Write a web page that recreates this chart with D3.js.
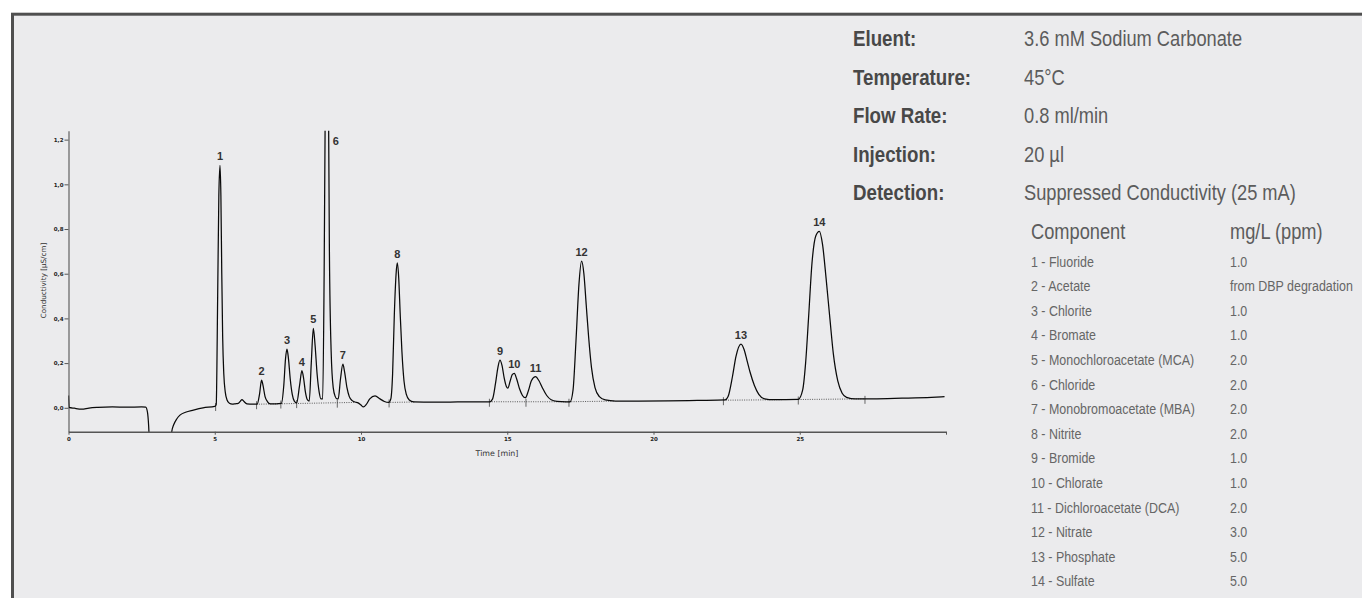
<!DOCTYPE html>
<html>
<head>
<meta charset="utf-8">
<script src="https://cdn.jsdelivr.net/npm/d3@7/dist/d3.min.js"></script>
<style>
	body { margin: 0; background: #fff; }
	.axis text { font-family: 'DejaVu Sans', sans-serif; font-weight: bold; font-size: 5.5px; fill: #222; }
	.axis path, .axis line { stroke: #555; }
	.cond-label { font-family: 'Liberation Sans', Arial, sans-serif; font-weight: bold; font-size: 22px; fill: #484848; }
	.cond-value { font-family: 'Liberation Sans', Arial, sans-serif; font-size: 22px; fill: #5c5c5c; }
	.comp { font-family: 'Liberation Sans', Arial, sans-serif; font-size: 15px; fill: #666; }
</style>
</head>
<body>
<div id="chart"></div>
<script>
// chromatogram trace: [time (min), conductivity (µS/cm)]
const trace = [
	[0, 0.055], [0.02, 0.002], [0.2, -0.002], [0.45, -0.006], [0.7, -0.001], [1.0, 0.002],
	[1.5, 0.004], [2.0, 0.003], [2.5, 0.004], [2.64, 0.003], [2.7, -0.02], [2.74, -0.08],
	[2.78, -0.2], [2.85, -0.3], [3.4, -0.3], [3.5, -0.14], [3.53, -0.107], [3.6, -0.075],
	[3.7, -0.05], [3.81, -0.033], [4.0, -0.02], [4.27, -0.01], [4.6, 0.0], [5.0, 0.006],
	// 1
	[5.05, 0.015], [5.1, 0.5], [5.14, 0.95], [5.18, 1.085], [5.21, 0.95], [5.24, 0.6],
	[5.27, 0.32], [5.31, 0.15], [5.36, 0.07], [5.42, 0.035], [5.5, 0.02], [5.6, 0.016],
	[5.7, 0.018], [5.8, 0.02], [5.88, 0.03], [5.93, 0.037], [6.0, 0.028], [6.1, 0.018],
	[6.3, 0.016],
	// 2
	[6.45, 0.016], [6.53, 0.06], [6.6, 0.124], [6.65, 0.1], [6.72, 0.05], [6.8, 0.028],
	[6.9, 0.018], [7.1, 0.018],
	// 3, 4, 5
	[7.28, 0.02], [7.36, 0.1], [7.42, 0.22], [7.47, 0.262], [7.52, 0.22], [7.58, 0.13],
	[7.65, 0.06], [7.72, 0.03], [7.8, 0.022], [7.9, 0.1], [7.98, 0.166], [8.04, 0.13],
	[8.1, 0.07], [8.17, 0.035], [8.23, 0.03], [8.3, 0.2], [8.37, 0.355], [8.43, 0.28],
	[8.5, 0.15], [8.57, 0.07], [8.63, 0.04],
	// 6
	[8.69, 0.04], [8.74, 0.6], [8.79, 1.6], [8.83, 2.6], [8.87, 1.8], [8.92, 0.7],
	[8.98, 0.25], [9.05, 0.09], [9.12, 0.05], [9.18, 0.04],
	// 7
	[9.22, 0.04], [9.3, 0.13], [9.38, 0.195], [9.44, 0.16], [9.52, 0.09], [9.6, 0.05],
	[9.7, 0.032], [9.8, 0.026], [9.9, 0.022], [10.0, 0.012], [10.08, 0.004], [10.18, 0.015],
	[10.3, 0.04], [10.48, 0.053], [10.65, 0.04], [10.8, 0.028], [10.95, 0.024],
	// 8
	[11.02, 0.04], [11.08, 0.15], [11.14, 0.42], [11.2, 0.6], [11.24, 0.648], [11.29, 0.58],
	[11.34, 0.42], [11.4, 0.25], [11.47, 0.12], [11.55, 0.06], [11.65, 0.035], [11.8, 0.026],
	[12.5, 0.025], [13.3, 0.026], [14.0, 0.027], [14.4, 0.027],
	// 9, 10, 11
	[14.5, 0.04], [14.6, 0.11], [14.68, 0.18], [14.75, 0.213], [14.82, 0.19], [14.9, 0.13],
	[14.97, 0.095], [15.02, 0.088], [15.1, 0.12], [15.17, 0.148], [15.24, 0.154], [15.32, 0.13],
	[15.42, 0.085], [15.52, 0.055], [15.62, 0.045], [15.72, 0.075], [15.83, 0.122], [15.97, 0.139],
	[16.08, 0.122], [16.2, 0.09], [16.35, 0.055], [16.5, 0.036], [16.7, 0.029], [17.0, 0.027],
	// 12
	[17.15, 0.027], [17.25, 0.08], [17.35, 0.3], [17.45, 0.55], [17.54, 0.656], [17.62, 0.6],
	[17.7, 0.46], [17.78, 0.32], [17.88, 0.18], [18.0, 0.09], [18.15, 0.05], [18.35, 0.035],
	[18.7, 0.03], [19.5, 0.03], [20.5, 0.031], [21.5, 0.033], [22.45, 0.035],
	// 13
	[22.55, 0.05], [22.7, 0.14], [22.82, 0.23], [22.99, 0.285], [23.1, 0.26], [23.2, 0.21],
	[23.3, 0.16], [23.45, 0.1], [23.6, 0.06], [23.8, 0.04], [24.1, 0.036], [24.95, 0.038],
	// 14
	[25.1, 0.08], [25.2, 0.2], [25.3, 0.4], [25.42, 0.65], [25.55, 0.77], [25.67, 0.79],
	[25.78, 0.73], [25.9, 0.58], [26.03, 0.4], [26.15, 0.24], [26.3, 0.12], [26.45, 0.065],
	[26.6, 0.047], [26.9, 0.04], [27.5, 0.04], [28.5, 0.043], [29.5, 0.047], [29.95, 0.05]
];

const peakNumbers = [1, 2, 3, 4, 5, 6, 7, 8, 9, 10, 11, 12, 13, 14];
const peakTimes = [5.18, 6.6, 7.47, 7.98, 8.37, 8.83, 9.38, 11.24, 14.75, 15.24, 15.97, 17.54, 22.99, 25.67];
const peakHeights = [1.085, 0.124, 0.262, 0.166, 0.355, 2.6, 0.195, 0.648, 0.213, 0.154, 0.139, 0.656, 0.285, 0.79];

// dotted integration baselines: [t0, v0, t1, v1]
const integrationBaselines = [
	[6.43, 0.016, 9.8, 0.024],
	[11.0, 0.024, 11.85, 0.026],
	[14.39, 0.027, 17.11, 0.027],
	[17.11, 0.027, 18.68, 0.03],
	[22.39, 0.034, 24.38, 0.036],
	[24.95, 0.037, 27.23, 0.04]
];
// peak start / end markers: [time, value]
const peakMarkers = [
	[5.03, 0.008], [6.43, 0.016], [7.26, 0.019], [7.8, 0.021], [9.19, 0.023], [10.96, 0.024],
	[14.39, 0.027], [15.64, 0.027], [17.11, 0.027], [22.39, 0.034], [24.95, 0.037], [27.23, 0.04]
];

const xTicks = [0, 5, 10, 15, 20, 25, 30];
const yTicks = [0, 0.2, 0.4, 0.6, 0.8, 1.0, 1.2];

const conditionLabels = ['Eluent:', 'Temperature:', 'Flow Rate:', 'Injection:', 'Detection:'];
const conditionValues = ['3.6 mM Sodium Carbonate', '45°C', '0.8 ml/min', '20 µl', 'Suppressed Conductivity (25 mA)'];

const components = [
	'1 - Fluoride', '2 - Acetate', '3 - Chlorite', '4 - Bromate', '5 - Monochloroacetate (MCA)',
	'6 - Chloride', '7 - Monobromoacetate (MBA)', '8 - Nitrite', '9 - Bromide', '10 - Chlorate',
	'11 - Dichloroacetate (DCA)', '12 - Nitrate', '13 - Phosphate', '14 - Sulfate'
];
const concentrations = [
	'1.0', 'from DBP degradation', '1.0', '1.0', '2.0', '2.0', '2.0', '2.0', '1.0', '1.0',
	'2.0', '3.0', '5.0', '5.0'
];

var W = 1362;
var H = 598;

var svg = d3.select('#chart').append('svg').attr('width', W).attr('height', H);

// grey panel with dark frame
svg.append('rect')
	.attr('x', 12.5).attr('y', 14.2)
	.attr('width', W + 20).attr('height', H + 20)
	.attr('fill', '#ebebed')
	.attr('stroke', '#4f4f4f')
	.attr('stroke-width', 3);

var x = d3.scaleLinear().domain([0, 30]).range([68.5, 946]);
var y = d3.scaleLinear().domain([-0.107, 1.24]).range([431.7, 130.7]);

svg.append('clipPath').attr('id', 'plotclip')
	.append('rect')
	.attr('x', x.range()[0]).attr('y', y.range()[1])
	.attr('width', x.range()[1] - x.range()[0])
	.attr('height', y.range()[0] - y.range()[1]);

// axes
svg.append('g')
	.attr('class', 'axis')
	.attr('transform', 'translate(0,' + y.range()[0] + ')')
	.call(d3.axisBottom(x).tickValues(xTicks).tickSize(3).tickSizeOuter(0).tickPadding(2)
		.tickFormat((d) => (d === 30 ? '' : d)))
	.call((g) => g.select('.domain').attr('stroke-width', 1.4));

svg.append('g')
	.attr('class', 'axis')
	.attr('transform', 'translate(' + x.range()[0] + ',0)')
	.call(d3.axisLeft(y).tickValues(yTicks).tickSize(4).tickSizeOuter(0).tickPadding(1)
		.tickFormat((d) => d3.format('.1f')(d).replace('.', ',')))
	.call((g) => g.select('.domain').attr('stroke-width', 1.1));

svg.append('text')
	.attr('x', 497).attr('y', 456)
	.attr('text-anchor', 'middle')
	.style('font-family', 'DejaVu Sans, sans-serif')
	.style('font-size', '7.9px')
	.attr('fill', '#333')
	.text('Time [min]');

svg.append('text')
	.attr('transform', 'translate(45.5,280.5) rotate(-90)')
	.attr('text-anchor', 'middle')
	.style('font-family', 'DejaVu Sans, sans-serif')
	.style('font-size', '7.2px')
	.attr('fill', '#333')
	.text('Conductivity [µS/cm]');

var plot = svg.append('g').attr('clip-path', 'url(#plotclip)');

// integration baselines
plot.selectAll('.ibase')
	.data(integrationBaselines)
	.enter()
	.append('line')
	.attr('x1', (d) => x(d[0])).attr('y1', (d) => y(d[1]))
	.attr('x2', (d) => x(d[2])).attr('y2', (d) => y(d[3]))
	.attr('stroke', '#333')
	.attr('stroke-width', 0.8)
	.attr('stroke-dasharray', '1,1.3');

plot.selectAll('.marker')
	.data(peakMarkers)
	.enter()
	.append('line')
	.attr('x1', (d) => x(d[0])).attr('x2', (d) => x(d[0]))
	.attr('y1', (d) => y(d[1]) - 3).attr('y2', (d) => y(d[1]) + 5)
	.attr('stroke', '#444')
	.attr('stroke-width', 0.8);

var line = d3.line()
	.x((d) => x(d[0]))
	.y((d) => y(d[1]))
	.curve(d3.curveMonotoneX);

plot.append('path')
	.datum(trace)
	.attr('d', line)
	.attr('fill', 'none')
	.attr('stroke', '#0a0a0a')
	.attr('stroke-width', 1.25)
	.attr('stroke-linejoin', 'round');

// peak numbers
svg.selectAll('.peaklabel')
	.data(peakNumbers)
	.enter()
	.append('text')
	.attr('x', (d, i) => (peakHeights[i] > y.domain()[1] ? x(peakTimes[i]) + 9 : x(peakTimes[i])))
	.attr('y', (d, i) => (peakHeights[i] > y.domain()[1] ? y.range()[1] + 14.5 : y(peakHeights[i]) - 5))
	.attr('text-anchor', 'middle')
	.style('font-family', 'Liberation Sans, Arial, sans-serif')
	.style('font-weight', 'bold')
	.style('font-size', '11px')
	.attr('fill', '#333')
	.text((d) => d);

// text columns on the right use a narrowed sans (condensed face in the original)
function column(x0, squeeze) {
	return svg.append('g').attr('transform', 'translate(' + x0 + ',0) scale(' + squeeze + ',1)');
}

// run conditions
column(853, 0.85).selectAll('text')
	.data(conditionLabels)
	.enter()
	.append('text')
	.attr('class', 'cond-label')
	.attr('y', (d, i) => 46.5 + i * 38.4)
	.text((d) => d);
column(1024, 0.83).selectAll('text')
	.data(conditionValues)
	.enter()
	.append('text')
	.attr('class', 'cond-value')
	.attr('y', (d, i) => 46.5 + i * 38.4)
	.text((d) => d);

// component table
var names = column(1031, 0.83);
names.append('text').attr('class', 'cond-value').attr('y', 239.3).text('Component');
names.selectAll('.comp')
	.data(components)
	.enter()
	.append('text')
	.attr('class', 'comp')
	.attr('y', (d, i) => 266.7 + i * 24.6)
	.text((d) => d);

var conc = column(1230, 0.83);
conc.append('text').attr('class', 'cond-value').attr('y', 239.3).text('mg/L (ppm)');
conc.selectAll('.comp')
	.data(concentrations)
	.enter()
	.append('text')
	.attr('class', 'comp')
	.attr('y', (d, i) => 266.7 + i * 24.6)
	.text((d) => d);
</script>
</body>
</html>
